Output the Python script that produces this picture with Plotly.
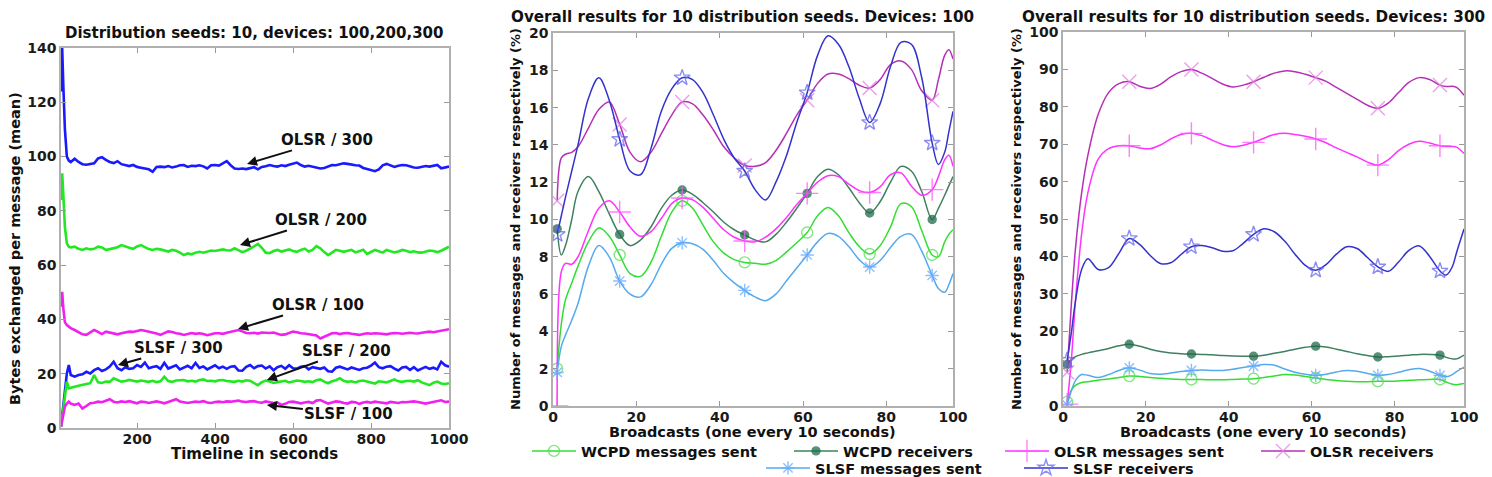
import plotly.graph_objects as go

W, H = 1492, 477
def px(x): return x / W
def py(y): return 1 - y / H

FONT = "DejaVu Sans"

# ---------------- Panel 1 data (Timeline in seconds) ----------------
T = [5, 8, 11, 15, 20, 25, 30] + list(range(40, 1001, 10))

OLSR_300 = [124, 140, 126, 110, 100, 98.5, 98,
            99.2, 98.0, 97.2, 97.0, 97.3, 97.5, 99.3, 99.8, 98.8, 98.0,
            97.6, 98.3, 97.2, 96.8, 96.5, 96.9, 96.2, 95.9, 95.7, 95.3,
            94.4, 96.2, 96.3, 96.1, 96.5, 96.0, 96.3, 96.8, 96.9, 96.2,
            96.6, 96.5, 96.8, 96.4, 95.6, 96.8, 96.9, 96.7, 97.5, 98.3,
            96.8, 95.6, 95.4, 95.6, 95.4, 95.7, 96.1, 95.3, 96.2, 96.4,
            96.9, 96.5, 96.3, 96.8, 96.5, 97.0, 97.4, 97.8, 96.9, 96.3,
            96.6, 96.2, 96.0, 95.6, 95.8, 96.4, 96.9, 96.8, 97.2, 97.5,
            97.3, 97.0, 96.8, 96.7, 95.8, 95.4, 95.0, 94.6, 95.3, 96.8,
            97.3, 96.6, 96.2, 96.6, 96.9, 96.8, 96.3, 96.0, 95.9, 96.3,
            96.5, 96.3, 96.6, 96.9, 95.7, 96.1, 96.3]
OLSR_200 = [84, 93.8, 86, 74, 68, 66.8, 66.5,
            66.8, 66.0, 65.6, 66.2, 65.8, 66.0, 66.8, 66.5, 65.6, 65.9,
            66.2, 66.6, 67.4, 66.8, 66.4, 66.0, 66.9, 67.4, 66.8, 65.9,
            65.6, 66.0, 65.8, 65.4, 65.0, 65.6, 65.3, 64.6, 63.7, 64.3,
            64.0, 64.6, 64.9, 64.6, 65.0, 65.4, 65.2, 65.6, 65.8, 65.5,
            65.4, 66.2, 65.6, 64.8, 65.3, 66.0, 66.9, 67.8, 66.4, 64.6,
            64.4, 65.2, 65.6, 65.0, 65.4, 65.8, 65.2, 64.9, 65.6, 66.1,
            65.0, 65.6, 67.0, 66.2, 64.8, 63.7, 64.6, 65.6, 65.3, 64.9,
            65.3, 65.6, 64.7, 65.2, 65.7, 64.1, 64.8, 65.6, 65.1, 64.6,
            65.6, 65.2, 64.7, 65.0, 65.6, 65.3, 64.8, 65.1, 64.7, 64.6,
            65.0, 65.4, 65.2, 64.8, 65.3, 66.1, 66.8]
OLSR_100 = [44.7, 50.2, 44, 39, 37.9, 37.3, 36.8,
            36.1, 35.4, 34.5, 34.3, 35.2, 36.1, 35.4, 34.6, 35.5, 35.2,
            34.7, 34.5, 34.9, 35.3, 35.5, 35.4, 35.7, 36.1, 35.8, 35.5,
            35.3, 34.8, 34.3, 34.9, 35.6, 35.4, 34.9, 34.7, 34.3, 34.6,
            35.0, 34.7, 34.9, 34.6, 34.2, 34.5, 34.9, 34.9, 34.7, 35.1,
            35.4, 35.8, 36.1, 35.6, 35.0, 34.9, 35.1, 34.8, 35.2, 35.1,
            35.0, 35.2, 34.8, 34.3, 34.5, 35.0, 35.5, 35.3, 34.9, 34.8,
            34.6, 34.4, 34.1, 33.0, 33.6, 34.4, 34.9, 35.0, 34.6, 34.9,
            35.0, 34.7, 34.5, 34.3, 34.6, 34.9, 34.7, 34.9, 34.8, 34.6,
            34.5, 34.8, 35.0, 34.9, 34.7, 34.9, 35.1, 34.9, 34.8, 35.1,
            35.3, 35.5, 35.3, 35.6, 36.0, 36.2, 36.4]
SLSF_300 = [0.5, 4, 8, 14, 20.1, 23.2, 19.5,
            18.9, 19.5, 19.8, 20.7, 20.1, 21.3, 22.0, 21.0, 21.6, 22.6,
            24.4, 22.0, 21.3, 22.4, 21.8, 22.0, 23.2, 22.5, 24.1, 22.0,
            22.5, 22.8, 21.8, 24.0, 21.9, 22.6, 23.1, 21.6, 22.3, 22.9,
            22.0, 24.0, 22.1, 22.7, 21.6, 22.4, 23.1, 22.0, 22.6, 21.8,
            22.6, 22.8, 21.2, 21.1, 22.5, 23.2, 22.0, 22.8, 23.0, 21.9,
            22.7, 21.3, 22.4, 22.9, 21.8, 23.1, 22.0, 21.9, 22.6, 22.8,
            21.6, 22.4, 22.0, 21.8, 22.3, 20.9, 20.75, 22.2, 22.6, 22.1,
            21.6, 22.3, 21.9, 21.4, 22.0, 22.2, 23.0, 24.1, 22.4, 22.0,
            22.6, 22.8, 21.9, 21.2, 22.3, 22.5, 21.4, 22.4, 21.2, 22.0,
            22.5, 21.8, 22.2, 21.6, 24.4, 23.1, 22.6]
SLSF_200 = [0.5, 4, 8, 12.8, 17.1, 14.6, 14.9,
            15.2, 15.6, 15.8, 16.2, 16.5, 19.5, 16.8, 16.6, 17.1, 17.0,
            18.3, 17.6, 17.1, 17.3, 17.7, 17.4, 17.1, 17.5, 17.3, 17.0,
            17.4, 16.9, 17.2, 18.9, 17.3, 17.0, 17.5, 17.6, 17.7, 17.2,
            17.4, 17.1, 17.7, 17.9, 17.3, 17.4, 17.2, 17.6, 17.7, 17.3,
            17.2, 17.0, 17.4, 17.1, 17.6, 17.4, 16.5, 15.8, 16.9, 17.5,
            17.1, 16.6, 16.9, 17.2, 17.4, 16.8, 17.1, 17.5, 17.3, 17.0,
            17.2, 16.9, 17.6, 17.9, 17.1, 16.5, 17.2, 17.6, 18.3, 17.4,
            17.0, 17.2, 16.8, 17.3, 17.5, 17.1, 16.9, 16.4, 17.2, 17.0,
            16.8, 17.3, 17.9, 17.2, 17.0, 17.3, 17.4, 17.1, 17.6, 16.8,
            16.3, 15.8, 16.7, 17.1, 16.4, 16.2, 16.5]
SLSF_100 = [0.5, 3, 6, 7.9, 9.0, 9.7, 9.0,
            8.5, 9.0, 7.2, 8.1, 9.1, 9.3, 9.7, 9.5, 10.0, 10.6,
            9.7, 9.4, 9.8, 9.6, 9.9, 9.4, 9.1, 9.7, 9.6, 9.2,
            9.4, 9.8, 9.5, 9.1, 9.6, 10.0, 10.6, 9.8, 9.5, 9.2,
            9.5, 9.7, 9.6, 9.9, 9.4, 9.2, 9.6, 9.7, 9.5, 9.8,
            9.7, 9.9, 10.1, 9.7, 9.6, 9.8, 9.9, 9.5, 9.3, 9.8,
            9.6, 9.2, 9.4, 8.5, 8.9, 9.6, 9.7, 9.3, 9.1, 9.4,
            9.6, 9.2, 10.1, 10.3, 9.5, 9.0, 9.4, 9.8, 9.7, 9.2,
            9.0, 9.6, 9.5, 8.9, 9.4, 9.6, 9.3, 9.7, 9.5, 9.2,
            9.1, 9.6, 9.4, 9.2, 9.6, 9.5, 9.7, 9.8, 9.6, 9.3,
            9.0, 9.3, 9.6, 9.8, 10.2, 9.6, 9.7]

# ---------------- Panels 2/3 data (Broadcasts) ----------------
MARKER_B = [1, 16, 31, 46, 61, 76, 91]
X2 = [1, 2, 3, 4.5, 6, 8.5, 11, 13.5, 16, 18.5, 21, 23.5, 26, 28.5, 31,
      33.5, 36, 38.5, 41, 43.5, 46, 48.5, 51, 53.5, 56, 58.5, 61, 63.5, 66,
      68.5, 71, 73.5, 76, 78.5, 81, 83.5, 86, 88.5, 91, 92.5, 94, 95, 96]
X3 = [1, 2, 3, 4.5, 6, 8.5, 11, 13.5, 16, 18.5, 21, 23.5, 26, 28.5, 31,
      33.5, 36, 38.5, 41, 43.5, 46, 48.5, 51, 53.5, 56, 58.5, 61, 63.5, 66,
      68.5, 71, 73.5, 76, 78.5, 81, 83.5, 86, 88.5, 91, 92.5, 94, 95, 96.8]

P2_WCPD_SENT = [2.0, 4.4, 5.7, 6.6, 7.5, 8.8, 9.55, 9.1, 8.1, 7.1, 6.95, 7.7, 9.1, 10.4, 11.0,
                10.6, 9.7, 8.8, 8.2, 7.85, 7.7, 7.65, 7.6, 7.8, 8.25, 8.75, 9.3, 10.2, 10.65,
                10.2, 9.3, 8.55, 8.15, 8.6, 9.6, 10.85, 10.7, 9.4, 8.1, 8.0, 8.8, 9.2, 9.45]
P2_WCPD_RECV = [9.5, 8.1, 8.6, 10.0, 11.5, 12.3, 11.5, 10.3, 9.2, 8.6, 8.9, 9.6, 10.6, 11.3, 11.58,
                11.35, 10.9, 10.4, 9.85, 9.45, 9.17, 8.9, 8.8, 9.2, 9.85, 10.6, 11.4, 12.3, 12.7,
                12.4, 11.7, 10.9, 10.35, 10.95, 12.0, 12.85, 12.6, 11.5, 10.0, 10.6, 11.3, 11.8, 12.3]
P2_OLSR_SENT = [0.0, 7.2, 7.65, 7.6, 8.0, 9.4, 10.6, 11.0, 10.4, 9.6, 9.1, 9.35, 10.05, 10.85, 11.15,
                11.05, 10.65, 10.05, 9.45, 9.05, 8.85, 8.8, 9.05, 9.5, 10.1, 10.8, 11.4, 12.0, 12.35,
                12.3, 11.9, 11.55, 11.45, 11.75, 12.4, 12.5, 11.8, 11.3, 11.6, 12.3, 13.2, 13.45, 12.85]
P2_OLSR_RECV = [11.0, 13.3, 13.5, 13.6, 13.9, 14.9, 15.9, 16.3, 15.1, 13.6, 13.1, 13.6, 14.6, 15.6, 16.3,
                16.2, 15.6, 14.8, 13.9, 13.3, 12.9, 12.85, 13.05, 13.7, 14.6, 15.6, 16.4, 17.3, 17.8,
                17.8, 17.55, 17.2, 17.05, 17.5, 18.3, 18.5, 18.05, 16.9, 16.4, 17.5, 18.8, 19.1, 18.6]
P2_SLSF_SENT = [1.8, 3.2, 3.8, 4.6, 5.5, 7.5, 8.6, 8.0, 6.7, 6.0, 5.85, 6.5, 7.6, 8.45, 8.75,
                8.7, 8.4, 7.8, 7.1, 6.6, 6.2, 5.85, 5.65, 6.0, 6.7, 7.4, 8.1, 8.8, 9.25,
                9.1, 8.55, 7.85, 7.45, 7.8, 8.5, 9.1, 9.2, 8.3, 7.0, 6.3, 6.1, 6.5, 7.1]
P2_SLSF_RECV = [9.2, 10.2, 11.2, 12.6, 14.0, 16.5, 17.6, 16.4, 14.3, 12.6, 12.4, 13.8, 15.8, 17.0, 17.6,
                17.5, 16.8, 15.6, 14.3, 13.3, 12.6, 11.6, 11.05, 12.0, 13.4, 15.2, 16.8, 18.8, 19.85,
                19.4, 18.2, 16.5, 15.2, 16.2, 18.2, 19.5, 19.4, 17.6, 14.1, 12.95, 13.6, 14.7, 15.8]

P3_WCPD_SENT = [1.1, 4.2, 5.5, 6.3, 6.5, 6.9, 7.2, 7.6, 8.0, 7.9, 7.6, 7.4, 7.2, 7.1, 7.1,
                7.1, 7.0, 7.0, 7.1, 7.2, 7.3, 7.6, 8.0, 8.4, 8.3, 7.9, 7.5, 7.1, 6.8,
                6.6, 6.5, 6.5, 6.6, 6.6, 6.7, 6.9, 7.0, 7.1, 7.1, 6.4, 5.8, 5.7, 6.0]
P3_WCPD_RECV = [11.1, 12.5, 13.2, 13.8, 14.2, 14.8, 15.4, 16.1, 16.5, 16.0, 15.2, 14.6, 14.2, 14.0, 13.9,
                13.8, 13.7, 13.5, 13.35, 13.3, 13.3, 13.6, 14.1, 14.6, 15.2, 15.7, 16.0, 15.8, 15.2,
                14.6, 14.0, 13.5, 13.1, 13.2, 13.4, 13.6, 13.8, 13.8, 13.6, 13.0, 12.6, 12.6, 13.6]
P3_OLSR_SENT = [0.5, 12, 28, 46, 57, 66, 68.8, 69.6, 69.6, 69.0, 68.8, 69.8, 71.4, 72.6, 72.9,
                72.3, 71.1, 69.9, 69.3, 69.7, 70.5, 71.6, 72.6, 72.9, 72.6, 72.1, 71.4, 70.4, 69.0,
                67.8, 66.6, 65.2, 64.4, 65.8, 68.3, 70.0, 70.8, 70.3, 69.6, 69.4, 69.4, 69.2, 67.5]
P3_OLSR_RECV = [9, 27, 42, 57, 67, 78, 83.8, 86.2, 86.7, 85.5, 84.9, 86.0, 88.0, 89.4, 90.0,
                89.0, 87.6, 86.1, 85.3, 85.8, 86.7, 87.9, 89.0, 89.6, 89.4, 88.7, 87.8, 86.8, 85.2,
                83.6, 82.0, 80.4, 79.6, 81.0, 83.8, 86.5, 87.8, 87.3, 85.8, 85.4, 85.5, 85.2, 83.1]
P3_SLSF_SENT = [0.3, 4.0, 6.8, 8.4, 8.2, 7.6, 8.4, 9.5, 10.2, 9.6, 8.7, 8.5, 8.8, 9.2, 9.5,
                9.6, 9.5, 9.5, 9.8, 10.3, 10.7, 11.1, 10.9, 9.9, 9.0, 8.5, 8.2, 8.5, 9.1,
                9.5, 9.3, 8.7, 8.2, 8.4, 9.0, 9.7, 10.0, 9.3, 8.2, 7.8, 8.4, 9.2, 10.4]
P3_SLSF_RECV = [12.2, 19.5, 28, 36.5, 39.4, 36.5, 37, 40.8, 44.8, 43.2, 40.3, 38.1, 38.3, 40.5, 42.6,
                42.9, 42.3, 41.4, 41.5, 43.5, 45.9, 47.4, 46.6, 44.1, 40.6, 37.6, 36.3, 37.8, 40.6,
                42.6, 42.1, 39.7, 37.2, 36.0, 38.5, 41.6, 42.8, 40.0, 36.1, 35.0, 37.3, 41.0, 47.3]

# ---------------- Styles ----------------
C_BLUE, C_GREEN, C_MAG = "#1a1aff", "#22e822", "#f020f0"

SERIES = [  # name, line color, marker color, symbol, size, legend, P2, P3
    ("WCPD messages sent", "#33dd33", "#55e055", "circle-open", 11, "legend", P2_WCPD_SENT, P3_WCPD_SENT),
    ("WCPD receivers", "#3f8060", "#1f6a4a", "circle", 8, "legend2", P2_WCPD_RECV, P3_WCPD_RECV),
    ("OLSR messages sent", "#ff33ff", "#ff55ff", "cross-thin-open", 16, "legend3", P2_OLSR_SENT, P3_OLSR_SENT),
    ("OLSR receivers", "#b530b5", "#e080e0", "x-thin-open", 14, "legend4", P2_OLSR_RECV, P3_OLSR_RECV),
    ("SLSF messages sent", "#55aaee", "#66aaff", "asterisk-open", 11, "legend5", P2_SLSF_SENT, P3_SLSF_SENT),
    ("SLSF receivers", "#3333cc", "#6666ee", "star-open", 12, "legend6", P2_SLSF_RECV, P3_SLSF_RECV),
]

fig = go.Figure()

for name, yv, col in [("OLSR / 300", OLSR_300, C_BLUE), ("OLSR / 200", OLSR_200, C_GREEN),
                      ("OLSR / 100", OLSR_100, C_MAG), ("SLSF / 300", SLSF_300, C_BLUE),
                      ("SLSF / 200", SLSF_200, C_GREEN), ("SLSF / 100", SLSF_100, C_MAG)]:
    fig.add_trace(go.Scatter(x=T, y=yv, mode="lines", name=name, showlegend=False,
                             line=dict(color=col, width=2.6), xaxis="x", yaxis="y"))

for name, lc, mc, sym, sz, leg, d2, d3 in SERIES:
    mk = dict(symbol=sym, size=sz, color=mc, opacity=0.75, line=dict(color=mc, width=1.4))
    for xs, ys, ax, ay in [(X2, d2, "x2", "y2"), (X3, d3, "x3", "y3")]:
        fig.add_trace(go.Scatter(x=xs, y=ys, mode="lines", line=dict(color=lc, width=1.5, shape="spline", smoothing=1.0),
                                 showlegend=False, xaxis=ax, yaxis=ay))
        mx = [x for x in xs if x in MARKER_B]
        my = [y for x, y in zip(xs, ys) if x in MARKER_B]
        fig.add_trace(go.Scatter(x=mx, y=my, mode="markers", marker=mk, showlegend=False,
                                 xaxis=ax, yaxis=ay))
    fig.add_trace(go.Scatter(x=[None], y=[None], mode="lines+markers", name=name, legend=leg,
                             line=dict(color=lc, width=1.5), marker=mk, xaxis="x2", yaxis="y2"))

tickfont = dict(family=FONT, size=14, weight="bold", color="#1a1a1a")
axcommon = dict(showline=True, linecolor="#b0b0b0", linewidth=1.5, mirror="ticks", ticks="inside",
                ticklen=5, tickcolor="#999999", tickwidth=1, showgrid=False, zeroline=False,
                tickfont=tickfont, automargin=False)
xcommon = dict(axcommon, ticklabelstandoff=-3)

fig.update_layout(
    width=W, height=H, margin=dict(l=0, r=0, t=0, b=0, autoexpand=False),
    paper_bgcolor="white", plot_bgcolor="white",
    xaxis=dict(domain=[px(61), px(449)], range=[5, 1000], tickvals=[200, 400, 600, 800, 1000],
               anchor="y", **xcommon),
    yaxis=dict(domain=[py(428), py(48)], range=[0, 140], dtick=20, anchor="x", **axcommon),
    xaxis2=dict(domain=[px(553), px(953)], range=[0, 96], tickvals=[0, 20, 40, 60, 80, 96],
                ticktext=["0", "20", "40", "60", "80", "100"], anchor="y2", **xcommon),
    yaxis2=dict(domain=[py(406), py(33)], range=[0, 20], dtick=2, anchor="x2", **axcommon),
    xaxis3=dict(domain=[px(1063), px(1464)], range=[0, 96.8], tickvals=[0, 20, 40, 60, 80, 96.8],
                ticktext=["0", "20", "40", "60", "80", "100"], anchor="y3", **xcommon),
    yaxis3=dict(domain=[py(406), py(32)], range=[0, 100], dtick=10, anchor="x3", **axcommon),
)

def legpos(xp, yp):
    return dict(x=px(xp), y=py(yp), xref="container", yref="container",
                xanchor="left", yanchor="middle", orientation="h",
                bgcolor="rgba(0,0,0,0)", borderwidth=0, itemwidth=44,
                font=dict(family=FONT, size=14.5, weight="bold", color="#111111"))

fig.update_layout(legend=legpos(527, 451), legend2=legpos(789, 451), legend3=legpos(1000, 451),
                  legend4=legpos(1256, 451), legend5=legpos(761, 468), legend6=legpos(1019, 468))

def txt(text, x, y, size, xanchor="center", angle=0):
    fig.add_annotation(text=text, x=px(x), y=py(y), xref="paper", yref="paper", showarrow=False,
                       xanchor=xanchor, yanchor="middle", textangle=angle,
                       font=dict(family=FONT, size=size, weight="bold", color="#111111"))

txt("Distribution seeds: 10, devices: 100,200,300", 254, 33, 15)
txt("Overall results for 10 distribution seeds. Devices: 100", 509, 17, 15.2, xanchor="left")
txt("Overall results for 10 distribution seeds. Devices: 300", 1020, 17, 15.2, xanchor="left")
txt("Timeline in seconds", 254, 454, 15)
txt("Broadcasts (one every 10 seconds)", 753, 432, 14.5)
txt("Broadcasts (one every 10 seconds)", 1263, 432, 14.5)
txt("Bytes exchanged per message (mean)", 15, 249, 14.5, angle=-90)
txt("Number of messages and receivers respectively (%)", 515, 219, 13, angle=-90)
txt("Number of messages and receivers respectively (%)", 1016, 219, 13, angle=-90)

ARROWS = [("OLSR / 300", 482, 97.3, 80, -24), ("OLSR / 200", 464, 67.4, 81, -25),
          ("OLSR / 100", 459, 36.5, 80, -24), ("SLSF / 300", 151, 23.2, 61, -17),
          ("SLSF / 200", 533, 17.7, 80, -29), ("SLSF / 100", 533, 8.5, 82, 9)]
for text, x, y, axo, ayo in ARROWS:
    fig.add_annotation(text=text, x=x, y=y, xref="x", yref="y", showarrow=True, ax=axo, ay=ayo,
                       arrowhead=2, arrowsize=1, arrowwidth=2, arrowcolor="#111111",
                       font=dict(family=FONT, size=15, weight="bold", color="#111111"))

fig.write_html("out.html", config={"displayModeBar": False})
